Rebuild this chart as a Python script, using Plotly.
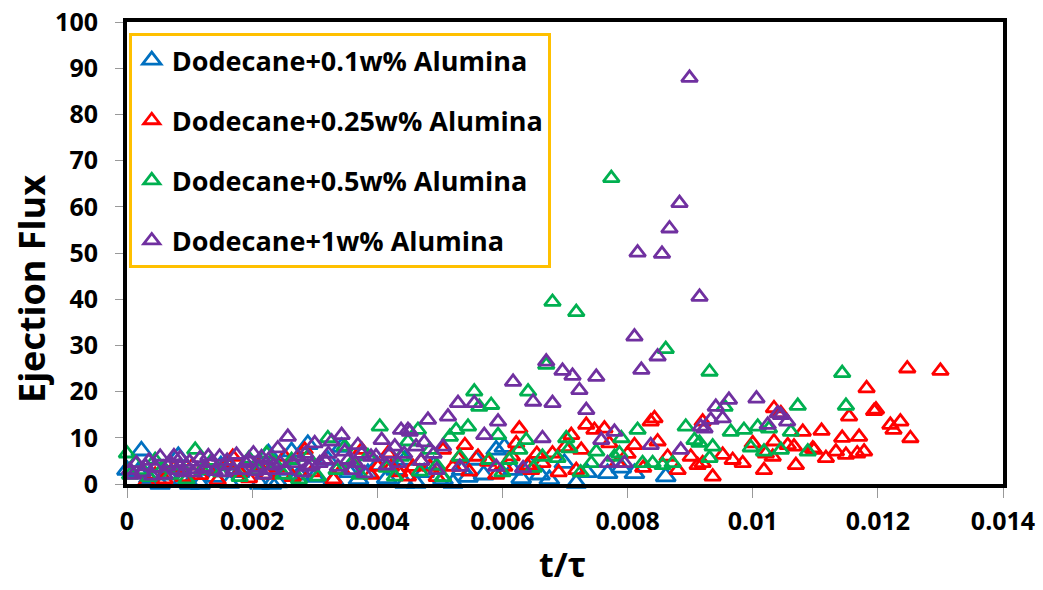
import plotly.graph_objects as go

# Ejection flux versus normalised time t/tau for dodecane nanofluids
x_ticks = [0, 0.002, 0.004, 0.006, 0.008, 0.010, 0.012, 0.014]
x_tick_text = ["0", "0.002", "0.004", "0.006", "0.008", "0.01", "0.012", "0.014"]
y_ticks = [0, 10, 20, 30, 40, 50, 60, 70, 80, 90, 100]

names = [
    "Dodecane+0.1w% Alumina",
    "Dodecane+0.25w% Alumina",
    "Dodecane+0.5w% Alumina",
    "Dodecane+1w% Alumina",
]
colors = ["#0070C0", "#FF0000", "#00B050", "#7030A0"]

# 0.1 w% alumina
t_01 = [0.00000, 0.00018, 0.00023, 0.00035, 0.00045, 0.00053, 0.00065, 0.00082, 0.00090, 0.00100,
        0.00117, 0.00125, 0.00140, 0.00150, 0.00164, 0.00180, 0.00195, 0.00212, 0.00226, 0.00231,
        0.00241, 0.00255, 0.00263, 0.00275, 0.00289, 0.00300, 0.00321, 0.00330, 0.00343, 0.00355,
        0.00370, 0.00385, 0.00400, 0.00415, 0.00430, 0.00444, 0.00444, 0.00462, 0.00475, 0.00490,
        0.00505, 0.00521, 0.00535, 0.00545, 0.00558, 0.00570, 0.00590, 0.00603, 0.00617, 0.00630,
        0.00645, 0.00660, 0.00675, 0.00699, 0.00718, 0.00735, 0.00768, 0.00790, 0.00811, 0.00861]
flux_01 = [3.0, 2.7, 7.2, 1.2, 3.5, 0.0, 2.0, 6.0, 1.0, 0.0,
           0.0, 3.0, 1.5, 4.0, 0.2, 2.5, 5.0, 0.0, 6.6, 0.0,
           0.3, 3.0, 7.0, 2.0, 8.6, 1.5, 5.2, 0.8, 8.0, 2.5,
           1.0, 2.3, 4.0, 1.2, 3.0, 5.2, 0.2, 0.2, 2.5, 4.0,
           1.0, 0.2, 3.0, 1.5, 5.2, 2.0, 7.4, 8.0, 3.0, 1.2,
           4.0, 2.0, 1.0, 4.5, 0.2, 2.5, 2.3, 3.5, 2.3, 1.6]

# 0.25 w% alumina
t_025 = [0.00031, 0.00045, 0.00060, 0.00075, 0.00090, 0.00105, 0.00117, 0.00130, 0.00145, 0.00160,
         0.00169, 0.00180, 0.00195, 0.00210, 0.00225, 0.00240, 0.00252, 0.00265, 0.00284, 0.00295,
         0.00316, 0.00330, 0.00343, 0.00360, 0.00375, 0.00390, 0.00401, 0.00417, 0.00422, 0.00435,
         0.00449, 0.00457, 0.00470, 0.00484, 0.00495, 0.00505, 0.00521, 0.00530, 0.00540, 0.00547,
         0.00561, 0.00577, 0.00590, 0.00603, 0.00615, 0.00622, 0.00627, 0.00640, 0.00646, 0.00655,
         0.00664, 0.00680, 0.00690, 0.00700, 0.00710, 0.00718, 0.00726, 0.00734, 0.00747, 0.00763,
         0.00771, 0.00784, 0.00800, 0.00811, 0.00825, 0.00837, 0.00843, 0.00848, 0.00864, 0.00880,
         0.00901, 0.00912, 0.00920, 0.00920, 0.00936, 0.00952, 0.00968, 0.00984, 0.01000, 0.01018,
         0.01021, 0.01032, 0.01034, 0.01034, 0.01045, 0.01056, 0.01066, 0.01069, 0.01080, 0.01096,
         0.01098, 0.01110, 0.01117, 0.01133, 0.01143, 0.01149, 0.01154, 0.01167, 0.01170, 0.01178,
         0.01182, 0.01194, 0.01197, 0.01220, 0.01225, 0.01236, 0.01247, 0.01252, 0.01300]
flux_025 = [0.5, 2.0, 1.0, 3.5, 1.5, 4.0, 1.9, 3.0, 0.8, 4.5,
            5.9, 2.5, 1.2, 4.0, 2.0, 3.5, 5.9, 1.5, 7.4, 2.5,
            5.2, 1.0, 3.0, 4.5, 7.4, 2.0, 3.7, 6.6, 3.7, 2.5,
            1.6, 3.7, 5.0, 3.7, 1.5, 7.4, 3.7, 5.5, 8.4, 2.7,
            5.9, 4.8, 2.0, 3.7, 6.0, 8.8, 12.0, 4.0, 3.0, 6.5,
            4.5, 6.6, 2.5, 8.0, 10.6, 3.0, 7.4, 12.8, 11.7, 12.0,
            8.8, 4.5, 6.5, 8.4, 3.5, 13.5, 14.2, 9.2, 5.9, 3.0,
            5.9, 4.1, 13.5, 4.5, 1.6, 6.3, 5.2, 4.5, 8.8, 3.0,
            6.6, 5.9, 9.2, 16.4, 15.3, 8.4, 8.1, 4.1, 11.3, 7.7,
            7.4, 11.5, 5.6, 7.0, 10.0, 6.3, 14.6, 6.6, 10.2, 7.0,
            20.7, 15.8, 16.1, 12.8, 11.7, 13.5, 25.0, 9.9, 24.5]

# 0.5 w% alumina
t_05 = [0.00000, 0.00005, 0.00013, 0.00025, 0.00035, 0.00045, 0.00058, 0.00070, 0.00085, 0.00095,
        0.00109, 0.00120, 0.00135, 0.00150, 0.00165, 0.00180, 0.00195, 0.00210, 0.00223, 0.00236,
        0.00250, 0.00263, 0.00275, 0.00289, 0.00305, 0.00321, 0.00335, 0.00348, 0.00359, 0.00372,
        0.00385, 0.00404, 0.00415, 0.00428, 0.00438, 0.00449, 0.00465, 0.00468, 0.00484, 0.00495,
        0.00505, 0.00516, 0.00526, 0.00532, 0.00545, 0.00555, 0.00563, 0.00579, 0.00582, 0.00593,
        0.00600, 0.00611, 0.00627, 0.00638, 0.00641, 0.00650, 0.00664, 0.00670, 0.00680, 0.00688,
        0.00702, 0.00707, 0.00718, 0.00725, 0.00742, 0.00750, 0.00774, 0.00779, 0.00787, 0.00790,
        0.00816, 0.00824, 0.00840, 0.00856, 0.00861, 0.00872, 0.00893, 0.00907, 0.00915, 0.00931,
        0.00931, 0.00936, 0.00955, 0.00965, 0.00986, 0.00997, 0.01008, 0.01018, 0.01026, 0.01045,
        0.01061, 0.01072, 0.01088, 0.01143, 0.01149]
flux_05 = [6.6, 2.0, 4.5, 3.0, 1.5, 5.2, 3.5, 2.0, 4.0, 1.0,
           7.4, 3.0, 5.0, 2.5, 4.0, 1.5, 5.5, 3.0, 6.6, 4.5,
           2.0, 5.2, 1.0, 5.9, 1.6, 9.9, 3.0, 8.1, 4.5, 2.0,
           6.0, 12.4, 3.5, 1.6, 5.9, 9.2, 11.7, 2.7, 7.4, 4.0,
           1.5, 10.2, 11.7, 5.9, 12.4, 20.0, 16.7, 5.2, 17.1, 10.6,
           2.5, 5.2, 7.4, 9.5, 20.0, 3.5, 5.9, 25.8, 39.4, 5.6,
           9.9, 7.7, 37.2, 2.5, 4.5, 7.0, 66.2, 5.9, 6.6, 9.9,
           11.7, 4.5, 4.5, 4.1, 29.2, 4.5, 12.4, 9.5, 8.9, 24.3,
           5.6, 8.1, 16.7, 11.3, 11.7, 7.9, 12.4, 7.0, 12.0, 7.4,
           11.3, 16.9, 7.0, 24.0, 16.9]

# 1 w% alumina
t_1 = [0.00005, 0.00010, 0.00015, 0.00025, 0.00030, 0.00035, 0.00040, 0.00045, 0.00053, 0.00060,
       0.00065, 0.00070, 0.00075, 0.00080, 0.00085, 0.00090, 0.00095, 0.00100, 0.00105, 0.00112,
       0.00117, 0.00125, 0.00130, 0.00135, 0.00140, 0.00148, 0.00155, 0.00160, 0.00165, 0.00170,
       0.00175, 0.00185, 0.00190, 0.00195, 0.00202, 0.00205, 0.00210, 0.00215, 0.00218, 0.00226,
       0.00230, 0.00235, 0.00241, 0.00245, 0.00252, 0.00257, 0.00265, 0.00273, 0.00280, 0.00285,
       0.00289, 0.00295, 0.00300, 0.00308, 0.00316, 0.00322, 0.00327, 0.00337, 0.00343, 0.00348,
       0.00353, 0.00360, 0.00365, 0.00369, 0.00375, 0.00380, 0.00390, 0.00398, 0.00407, 0.00415,
       0.00420, 0.00428, 0.00433, 0.00438, 0.00443, 0.00449, 0.00452, 0.00462, 0.00470, 0.00475,
       0.00481, 0.00490, 0.00495, 0.00505, 0.00513, 0.00529, 0.00532, 0.00555, 0.00571, 0.00590,
       0.00593, 0.00617, 0.00633, 0.00649, 0.00664, 0.00670, 0.00680, 0.00696, 0.00712, 0.00723,
       0.00734, 0.00750, 0.00758, 0.00768, 0.00779, 0.00795, 0.00811, 0.00816, 0.00822, 0.00837,
       0.00848, 0.00855, 0.00867, 0.00883, 0.00885, 0.00899, 0.00915, 0.00917, 0.00923, 0.00933,
       0.00941, 0.00952, 0.00962, 0.01006, 0.01024, 0.01040, 0.01045, 0.01055]
flux_1 = [3.0, 2.0, 4.5, 2.5, 3.8, 5.0, 1.8, 3.5, 5.9, 2.0,
          3.8, 4.5, 6.0, 3.0, 5.6, 2.5, 4.0, 4.8, 2.5, 3.2,
          5.6, 3.5, 6.0, 4.5, 2.8, 5.9, 2.5, 5.0, 4.0, 3.0,
          6.3, 3.0, 4.5, 5.0, 6.6, 2.8, 3.5, 5.8, 2.0, 5.2,
          3.0, 4.0, 7.7, 4.5, 3.0, 10.2, 4.5, 5.9, 2.5, 6.5,
          3.7, 4.0, 8.8, 4.5, 5.2, 6.5, 9.2, 3.7, 10.6, 7.0,
          5.2, 3.0, 4.5, 8.4, 6.5, 2.3, 5.9, 6.0, 9.5, 4.0,
          6.5, 8.1, 4.5, 11.7, 6.5, 11.7, 11.3, 8.1, 5.0, 9.0,
          13.9, 6.5, 3.0, 8.1, 14.6, 17.5, 3.7, 17.5, 10.6, 3.7,
          13.5, 22.1, 3.4, 17.8, 9.9, 26.5, 17.5, 24.5, 23.4, 20.3,
          16.0, 23.2, 9.5, 4.5, 11.3, 4.5, 31.9, 50.1, 24.7, 8.4,
          27.6, 49.8, 55.3, 60.8, 7.4, 87.9, 40.5, 12.4, 12.0, 13.9,
          16.7, 14.2, 18.2, 18.5, 12.8, 15.3, 14.9, 13.5]

series_t = [t_01, t_025, t_05, t_1]
series_flux = [flux_01, flux_025, flux_05, flux_1]
marker_sizes = [17, 14, 14, 14]

FONT = "Open Sans, Lato, Arial, sans-serif"

fig = go.Figure()
for i in range(4):
    fig.add_trace(go.Scatter(
        x=series_t[i], y=series_flux[i], mode="markers", name=names[i],
        legendgroup=f"g{i}", cliponaxis=False,
        marker=dict(symbol="triangle-up-open", size=marker_sizes[i],
                    color=colors[i], line=dict(width=2.8, color=colors[i])),
    ))

fig.update_layout(
    width=1043, height=590,
    margin=dict(l=127, r=40, t=22, b=106),
    paper_bgcolor="white", plot_bgcolor="white",
    font=dict(family=FONT, color="black", size=25, weight="bold"),
    legend=dict(
        x=0.002, y=0.976, xanchor="left", yanchor="top",
        bgcolor="white", bordercolor="#FFC000", borderwidth=3,
        font=dict(family=FONT, size=27, color="black", weight="bold"),
        tracegroupgap=22, itemsizing="trace",
    ),
    showlegend=True,
    annotations=[
        dict(text="Ejection Flux", textangle=-90, showarrow=False,
             xref="paper", yref="paper", x=-0.1096, y=0.422,
             xanchor="center", yanchor="middle",
             font=dict(family=FONT, size=36, color="black", weight="bold")),
        dict(text="t/τ", showarrow=False,
             xref="paper", yref="paper", x=0.4966, y=-0.1732,
             xanchor="center", yanchor="middle",
             font=dict(family=FONT, size=34, color="black", weight="bold")),
    ],
)

fig.update_xaxes(
    range=[0, 0.014], tickvals=x_ticks, ticktext=x_tick_text,
    automargin=False,
    showline=True, linewidth=4, linecolor="black", mirror=True,
    ticks="outside", ticklen=10, tickwidth=1, tickcolor="#999999",
    showgrid=False, zeroline=False, ticklabelstandoff=2,
    tickfont=dict(family=FONT, size=25, color="black", weight="bold"),
)
fig.update_yaxes(
    range=[0, 100], tickvals=y_ticks,
    automargin=False,
    showline=True, linewidth=4, linecolor="black", mirror=True,
    ticks="outside", ticklen=8, tickwidth=1, tickcolor="#999999",
    showgrid=False, zeroline=False, ticklabelstandoff=12,
    tickfont=dict(family=FONT, size=25, color="black", weight="bold"),
)

fig.write_html("out.html")
